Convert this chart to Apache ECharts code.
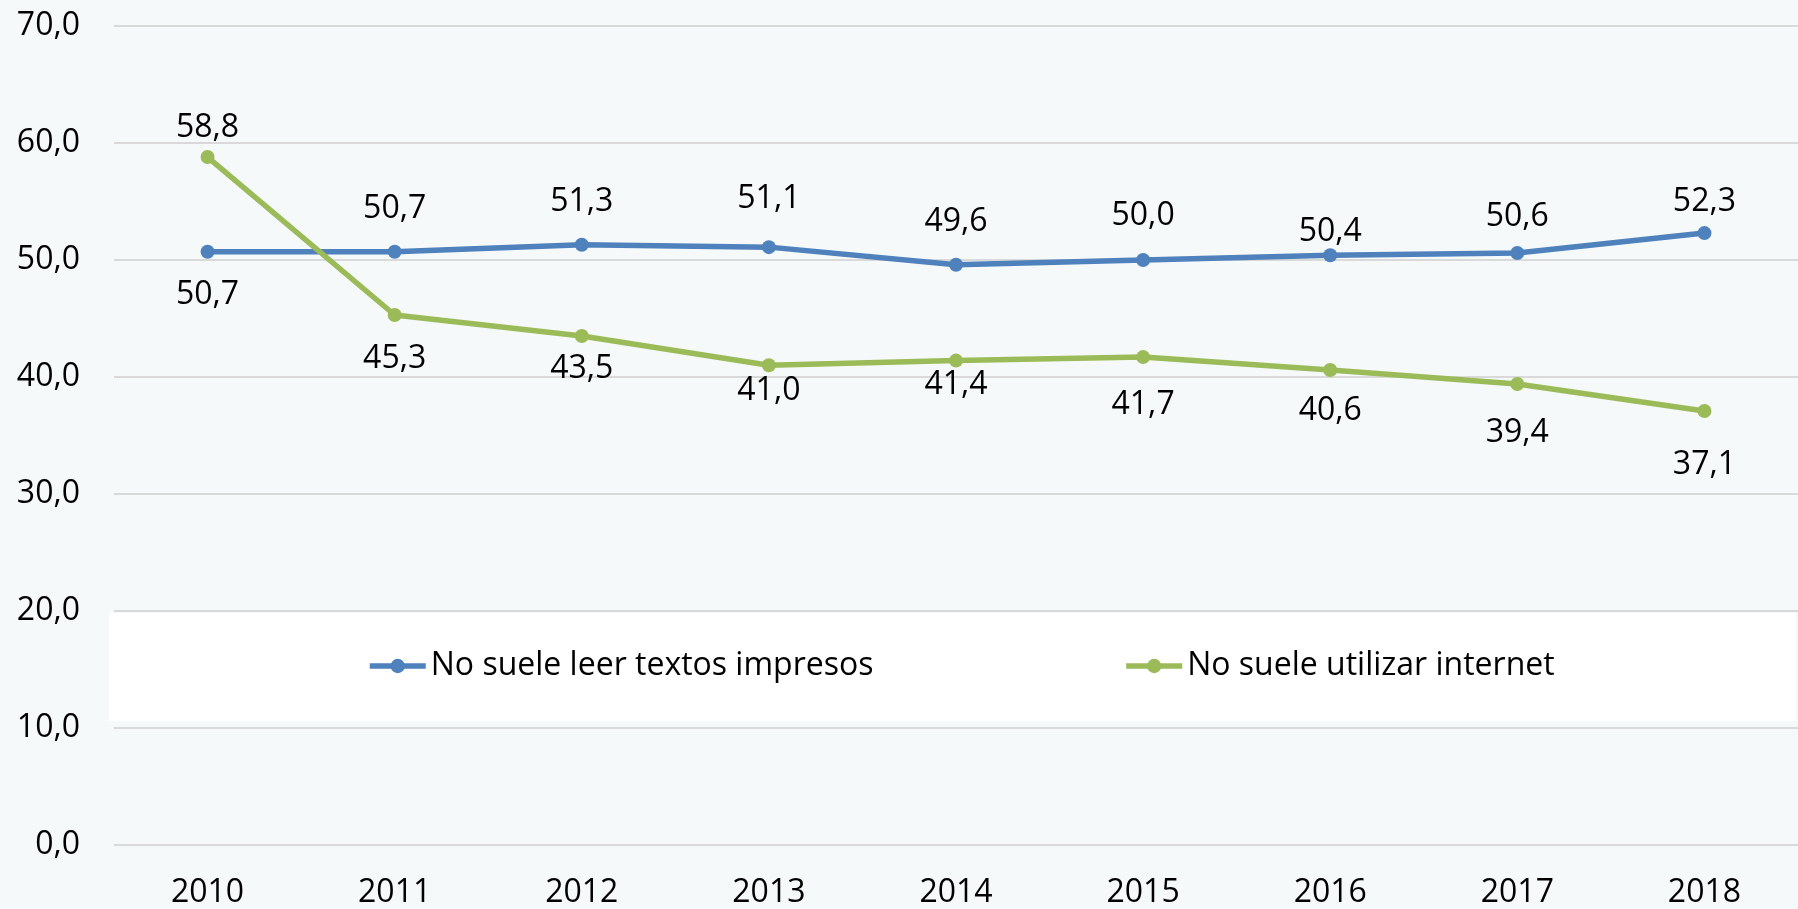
<!DOCTYPE html>
<html>
<head>
<meta charset="utf-8">
<script src="https://cdn.jsdelivr.net/npm/echarts@6/dist/echarts.min.js"></script>
<style>
  html, body { margin: 0; padding: 0; background: #f5f9fa; }
  #main { width: 1798px; height: 909px; }
</style>
</head>
<body>
<div id="main"></div>
<script>
var years = ["2010", "2011", "2012", "2013", "2014", "2015", "2016", "2017", "2018"];
var impresos = [50.7, 50.7, 51.3, 51.1, 49.6, 50.0, 50.4, 50.6, 52.3];
var internet = [58.8, 45.3, 43.5, 41.0, 41.4, 41.7, 40.6, 39.4, 37.1];
var seriesNames = ["No suele leer textos impresos", "No suele utilizar internet"];

// label placement (styling only)
var impresosLabelPos = ["bottom", "top", "top", "top", "top", "top", "top", "top", "top"];
var impresosLabelGap = [20, 20, 20, 25, 20, 21, 0, 13, 8];
var internetLabelPos = ["top", "bottom", "bottom", "bottom", "bottom", "bottom", "bottom", "bottom", "bottom"];
var internetLabelGap = [6, 21, 10, 3, 1, 25, 18, 26, 31];

var FONT = "Open Sans";
var FS = 32;
var fmt = function (v) { return v.toFixed(1).replace(".", ","); };

function points(values, pos, gap) {
  return values.map(function (v, i) {
    return { value: v, label: { position: pos[i], distance: gap[i] } };
  });
}

var myChart = echarts.init(document.getElementById("main"));
myChart.setOption({
  backgroundColor: "#f5f9fa",
  textStyle: { fontFamily: FONT },
  animation: false,
  grid: { left: 114, top: 26, width: 1690, height: 820, containLabel: false },
  graphic: [
    { type: "rect", z: 0, shape: { x: 109, y: 613, width: 1687, height: 108 }, style: { fill: "#ffffff" } }
  ],
  legend: {
    left: 362,
    top: 645,
    itemWidth: 56,
    itemHeight: 18,
    itemGap: 250,
    lineStyle: { width: 5.5 },
    textStyle: { fontFamily: FONT, fontSize: FS, color: "#000" },
    data: seriesNames
  },
  xAxis: {
    type: "category",
    data: years,
    boundaryGap: true,
    axisLine: { show: false },
    axisTick: { show: false },
    axisLabel: { fontFamily: FONT, fontSize: FS, color: "#000", margin: 32 }
  },
  yAxis: {
    type: "value",
    min: 0,
    max: 70,
    interval: 10,
    axisLabel: { fontFamily: FONT, fontSize: FS, color: "#000", margin: 34, formatter: fmt },
    splitLine: { lineStyle: { color: "#d9d9d9", width: 2 } }
  },
  series: [
    {
      name: seriesNames[0],
      type: "line",
      data: points(impresos, impresosLabelPos, impresosLabelGap),
      symbol: "circle",
      symbolSize: 14,
      color: "#4f81bd",
      lineStyle: { width: 5.5, color: "#4f81bd" },
      label: {
        show: true,
        fontFamily: FONT, fontSize: FS, color: "#000",
        formatter: function (p) { return fmt(p.value); }
      }
    },
    {
      name: seriesNames[1],
      type: "line",
      data: points(internet, internetLabelPos, internetLabelGap),
      symbol: "circle",
      symbolSize: 14,
      color: "#9bbb59",
      lineStyle: { width: 5.5, color: "#9bbb59" },
      label: {
        show: true,
        fontFamily: FONT, fontSize: FS, color: "#000",
        formatter: function (p) { return fmt(p.value); }
      }
    }
  ]
});
</script>
</body>
</html>
